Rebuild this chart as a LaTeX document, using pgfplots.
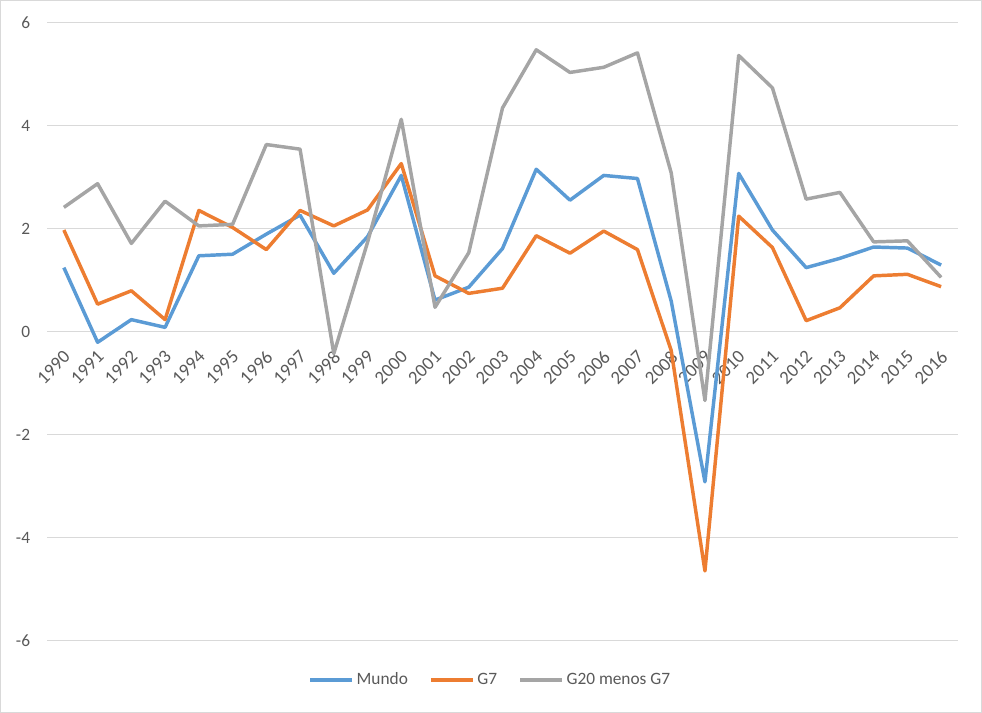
\documentclass[border=0pt]{standalone}
\usepackage{pgfplots}
\usepackage{pgfplotstable}
\pgfplotsset{compat=1.18}
\usepackage{fontspec}
\setmainfont{Carlito}
\definecolor{mundo}{HTML}{5B9BD5}
\definecolor{gseven}{HTML}{ED7D31}
\definecolor{gtwenty}{HTML}{A5A5A5}
\definecolor{gridc}{HTML}{D9D9D9}
\definecolor{txt}{HTML}{595959}

\pgfplotstableread{
x year mundo g7 g20
0 1990 1.25 1.98 2.42
1 1991 -0.20 0.54 2.88
2 1992 0.24 0.80 1.72
3 1993 0.09 0.24 2.54
4 1994 1.48 2.36 2.06
5 1995 1.51 2.03 2.09
6 1996 1.90 1.60 3.64
7 1997 2.27 2.36 3.55
8 1998 1.14 2.06 -0.42
9 1999 1.85 2.37 1.74
10 2000 3.04 3.27 4.13
11 2001 0.62 1.09 0.48
12 2002 0.87 0.75 1.54
13 2003 1.62 0.85 4.35
14 2004 3.16 1.87 5.48
15 2005 2.56 1.53 5.04
16 2006 3.04 1.96 5.14
17 2007 2.98 1.60 5.42
18 2008 0.60 -0.36 3.09
19 2009 -2.91 -4.64 -1.33
20 2010 3.08 2.25 5.37
21 2011 1.98 1.64 4.74
22 2012 1.25 0.22 2.58
23 2013 1.43 0.47 2.71
24 2014 1.65 1.09 1.75
25 2015 1.63 1.12 1.77
26 2016 1.30 0.88 1.06
}\data

\begin{document}
\begin{tikzpicture}
\path[use as bounding box] (0,0) rectangle (736.5pt,534.75pt);
\draw[gridc, line width=0.75pt] (0.375pt,0.375pt) rectangle (736.125pt,534.375pt);
\begin{axis}[
  at={(35.25pt,54pt)}, anchor=south west,
  scale only axis, width=683.25pt, height=463.5pt,
  xmin=-0.5, xmax=26.5, ymin=-6, ymax=6,
  axis x line=middle, axis y line=left,
  x axis line style={-, draw=gridc, line width=0.75pt},
  y axis line style={-, draw=none},
  major tick length=0pt,
  xtick={0,...,26},
  xticklabels={1990,1991,1992,1993,1994,1995,1996,1997,1998,1999,2000,2001,2002,2003,2004,2005,2006,2007,2008,2009,2010,2011,2012,2013,2014,2015,2016},
  ytick={-6,-4,-2,0,2,4,6},
  yticklabels={-6,-4,-2,0,2,4,6},
  ymajorgrids, grid style={gridc, line width=0.75pt},
  tick label style={text=txt},
  xticklabel style={font=\fontsize{14}{16}\selectfont, xshift=-1pt, yshift=-13pt, rotate=45, anchor=north east, inner sep=0pt},
  yticklabel style={font=\fontsize{13}{15}\selectfont, anchor=east, inner sep=0pt, xshift=-12.5pt},
  legend style={at={(0.487,-0.063)}, anchor=center, draw=none, fill=none,
    legend columns=-1, font=\fontsize{13}{15}\selectfont, text=txt,
    /tikz/every even column/.append style={column sep=14pt}},
  legend image code/.code={\draw[#1, line width=2.6pt] (0pt,0pt) -- (31.5pt,0pt);},
  every axis plot/.append style={line width=2.6pt, line join=round},
]
\addplot[mundo] table[x=x,y=mundo]{\data};
\addlegendentry{Mundo}
\addplot[gseven] table[x=x,y=g7]{\data};
\addlegendentry{G7}
\addplot[gtwenty] table[x=x,y=g20]{\data};
\addlegendentry{G20 menos G7}
\end{axis}
\end{tikzpicture}
\end{document}
